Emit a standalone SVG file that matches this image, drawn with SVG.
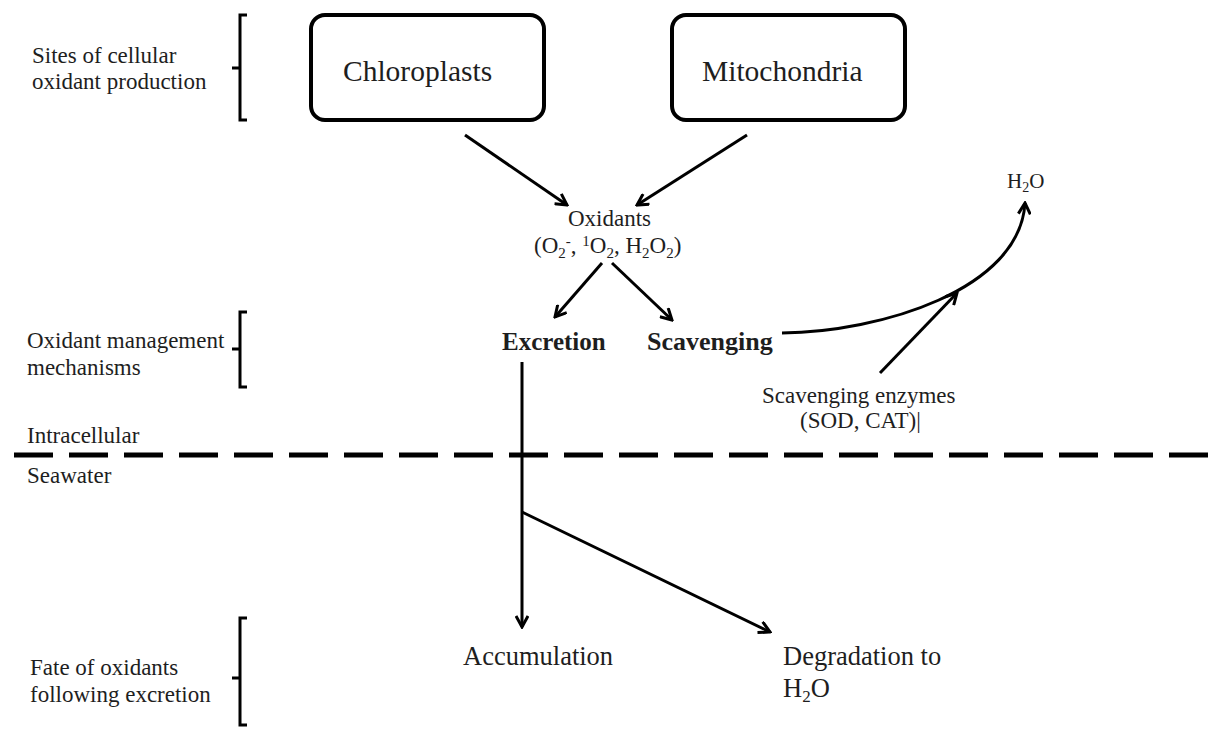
<svg xmlns="http://www.w3.org/2000/svg" width="1209" height="730" viewBox="0 0 1209 730">
<defs>
<style>
text{font-family:"Liberation Serif","Times New Roman",serif;fill:#1e1e1e}
.lbl{font-size:23px}
.box{fill:#fff;stroke:#000;stroke-width:4}
.boxt{font-size:29.5px}
.bold{font-weight:bold}
.big{font-size:26.5px}
.con{fill:none;stroke:#000;stroke-width:3}
.brk{fill:none;stroke:#000;stroke-width:3}
.dash{stroke:#000;stroke-width:5;stroke-dasharray:39 16}
</style>
<marker id="ah" viewBox="0 0 14 14" refX="12" refY="7" markerWidth="14" markerHeight="14" markerUnits="userSpaceOnUse" orient="auto">
<path d="M1,1 L12,7 L1,13" fill="none" stroke="#000" stroke-width="3"/>
</marker>
</defs>
<rect width="1209" height="730" fill="#fff"/>

<g id="brackets">
<path class="brk" d="M247,15 L240,15 L240,68 L232,68 M240,68 L240,120 L247,120"/>
<path class="brk" d="M247,312 L240,312 L240,349 L232,349 M240,349 L240,387 L247,387"/>
<path class="brk" d="M247,618 L240,618 L240,678 L232,678 M240,678 L240,725 L247,725"/>
</g>

<g id="labels">
<text class="lbl" x="32" y="63">Sites of cellular</text>
<text class="lbl" x="32" y="89">oxidant production</text>
<text class="lbl" x="27" y="348">Oxidant management</text>
<text class="lbl" x="27" y="375">mechanisms</text>
<text class="lbl" x="27" y="443">Intracellular</text>
<text class="lbl" x="27" y="483">Seawater</text>
<text class="lbl" x="30" y="675">Fate of oxidants</text>
<text class="lbl" x="30" y="702">following excretion</text>
</g>

<g id="boundary">
<line class="dash" x1="14" y1="455" x2="1209" y2="455"/>
</g>

<g id="chloroplasts">
<rect class="box" x="311" y="15" width="233" height="105" rx="14"/>
<text class="boxt" x="343" y="81">Chloroplasts</text>
</g>
<g id="mitochondria">
<rect class="box" x="672" y="15" width="233" height="105" rx="14"/>
<text class="boxt" x="702" y="81">Mitochondria</text>
</g>

<g id="oxidants">
<text class="lbl" x="568" y="226">Oxidants</text>
<text class="lbl" x="534" y="253">(O<tspan font-size="15" baseline-shift="-5">2</tspan><tspan font-size="15" baseline-shift="7">-</tspan>, <tspan font-size="15" baseline-shift="7">1</tspan>O<tspan font-size="15" baseline-shift="-5">2</tspan>, H<tspan font-size="15" baseline-shift="-5">2</tspan>O<tspan font-size="15" baseline-shift="-5">2</tspan>)</text>
</g>

<g id="excretion">
<text class="bold" font-size="25" x="502" y="350">Excretion</text>
</g>
<g id="scavenging">
<text class="bold" font-size="26" x="647" y="350">Scavenging</text>
</g>

<g id="h2o-top">
<text font-size="21" x="1007" y="188">H<tspan font-size="14" baseline-shift="-4">2</tspan>O</text>
</g>

<g id="enzymes">
<text class="lbl" x="762" y="403">Scavenging enzymes</text>
<text class="lbl" x="800" y="428">(SOD, CAT)|</text>
</g>

<g id="accumulation">
<text class="big" x="463" y="665">Accumulation</text>
</g>
<g id="degradation">
<text class="big" x="783" y="665">Degradation to</text>
<text class="big" x="783" y="697">H<tspan font-size="17" baseline-shift="-5">2</tspan>O</text>
</g>

<g id="connectors">
<line class="con" x1="465" y1="135" x2="567" y2="205" marker-end="url(#ah)"/>
<line class="con" x1="747" y1="135" x2="637" y2="205" marker-end="url(#ah)"/>
<line class="con" x1="602" y1="263" x2="555" y2="317" marker-end="url(#ah)"/>
<line class="con" x1="612" y1="263" x2="672" y2="320" marker-end="url(#ah)"/>
<path class="con" d="M782,333 C880,332 1020,290 1025,203" marker-end="url(#ah)"/>
<line class="con" x1="880" y1="373" x2="957" y2="293" marker-end="url(#ah)"/>
<line class="con" x1="522" y1="362" x2="522" y2="627" marker-end="url(#ah)"/>
<line class="con" x1="522" y1="512" x2="770" y2="632" marker-end="url(#ah)"/>
</g>
</svg>
